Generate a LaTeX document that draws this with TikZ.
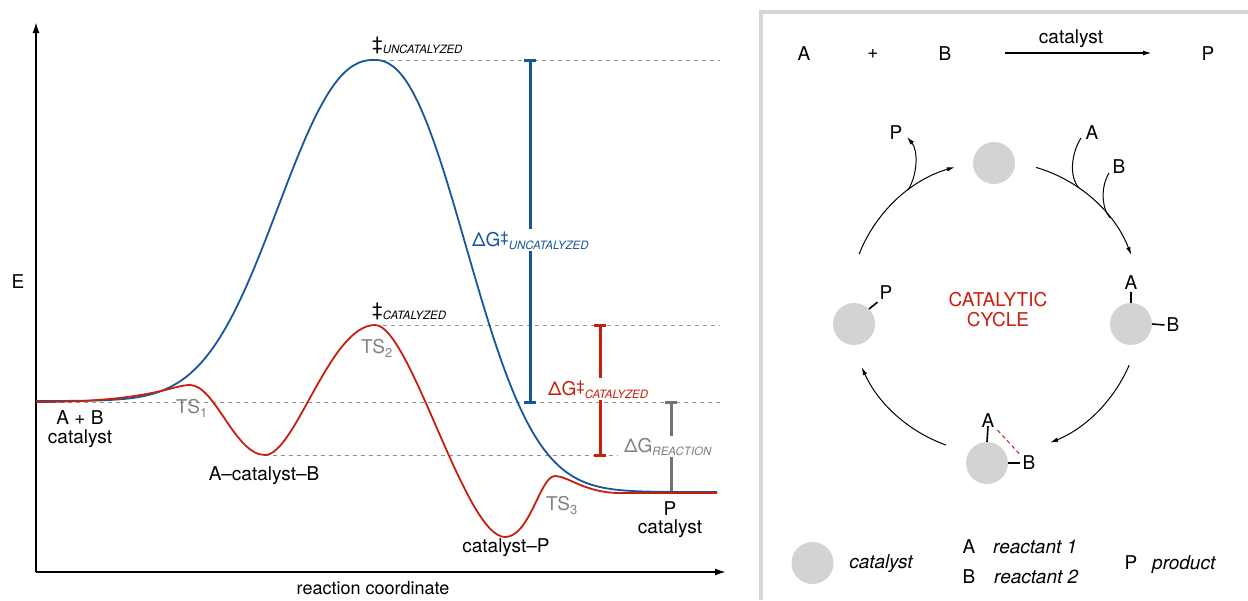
\documentclass[tikz,border=0pt]{standalone}
\usepackage{fontspec}
\setmainfont{TeX Gyre Heros}
\usetikzlibrary{arrows.meta}
\definecolor{cblue}{RGB}{23,87,153}
\definecolor{cred}{RGB}{200,30,12}
\definecolor{cgtext}{RGB}{128,128,128}
\definecolor{cdash}{RGB}{145,145,145}
\definecolor{cbar}{RGB}{115,115,115}
\definecolor{ccirc}{RGB}{211,211,211}
\definecolor{cbox}{RGB}{214,214,214}
\newcommand{\lowsub}[1]{\raisebox{-3pt}{\fontsize{11.5}{13}\selectfont\itshape #1}}
\newcommand{\dg}{\raisebox{4pt}{\fontsize{15}{15}\selectfont ‡}}
\newcommand{\tsnum}[1]{\raisebox{-4pt}{\fontsize{13}{13}\selectfont #1}}
\begin{document}
\begin{tikzpicture}[x=1pt,y=-1pt,
  lab/.style={inner sep=0pt, font=\fontsize{19}{22}\selectfont},
  glab/.style={lab, text=cgtext},
  dlab/.style={inner sep=2pt, fill=white, font=\fontsize{19}{22}\selectfont},
  guide/.style={cdash, line width=1pt, dash pattern=on 4pt off 4pt},
  curveb/.style={cblue, line width=1.8pt, line join=round},
  curver/.style={cred, line width=1.8pt, line join=round},
  barline/.style={line width=3pt},
  axis/.style={line width=1.8pt, -{Latex[length=11pt,width=7pt]}},
  cyc/.style={line width=1pt, -{Latex[length=8pt,width=4.5pt]}},
  cycplain/.style={line width=1pt},
  cat/.style={circle, fill=ccirc, draw=none, minimum size=42pt, inner sep=0pt},
  bond/.style={line width=1.6pt}]
\useasboundingbox (0,0) rectangle (1248,600);

% ---------- energy diagram ----------
\coordinate (O) at (36,572);
\coordinate (ytop) at (36,22);
\coordinate (xend) at (726,572);
\draw[axis] (O) -- (ytop);
\draw[axis] (O) -- (xend);
\node[lab] (E) at (18,282) {E};
\node[lab, anchor=base, font=\fontsize{18}{22}\selectfont] (xlab) at (373,594) {reaction coordinate};

% guide lines
\coordinate (pkU) at (374,60);
\coordinate (pkC) at (375,325);
\coordinate (st) at (36,402);
\coordinate (mid) at (265,455);
\draw[guide] (pkU) -- (720,60);
\draw[guide] (pkC) -- (720,325);
\draw[guide] (st) -- (720,402);
\draw[guide] (mid) -- (618,455);

% bars
\draw[barline, cblue] (530,60) -- (530,402);
\draw[barline, cblue] (524,60) -- (536,60);
\draw[barline, cblue] (524,402) -- (536,402);
\draw[barline, cred] (600,325) -- (600,455);
\draw[barline, cred] (594,325) -- (606,325);
\draw[barline, cred] (594,455) -- (606,455);
\draw[barline, cbar] (671,402) -- (671,492);
\draw[barline, cbar] (665,402) -- (677,402);
\draw[barline, cbar] (665,492) -- (677,492);

% bar labels
\node[dlab, text=cblue, anchor=base west] (dGU) at (470,246) {ΔG\dg\lowsub{UNCATALYZED}};
\node[dlab, text=cred, anchor=base west] (dGC) at (546,395) {ΔG\dg\lowsub{CATALYZED}};
\node[dlab, text=cgtext, anchor=base west] (dGR) at (622,452) {ΔG\lowsub{REACTION}};

% curves
\draw[curveb] plot[domain=36:373.5, samples=160] (\x, {401-341*exp(-((374.01-\x)/123)^2.3)})
  -- plot[domain=374.5:717, samples=160] (\x, {492-432*exp(-((\x-373.99)/118)^2.3)});
\draw[curver] (36,402) .. controls (150,402) and (172,385) .. (190,385)
  .. controls (215,385) and (235,455) .. (265,455)
  .. controls (295,455) and (330,325) .. (375,325)
  .. controls (410,325) and (465,537) .. (505,537)
  .. controls (530,537) and (540,476) .. (555,476)
  .. controls (568,476) and (585,493) .. (620,493) -- (717,493);

% labels of states
\node[lab, anchor=base west] (uc) at (372,50) {‡\lowsub{UNCATALYZED}};
\node[lab, anchor=base west] (ca) at (372,316) {‡\lowsub{CATALYZED}};
\node[glab, anchor=base west] (ts1) at (176,413) {TS\tsnum{1}};
\node[glab, anchor=base west] (ts2) at (361,353) {TS\tsnum{2}};
\node[glab, anchor=base west] (ts3) at (546,510) {TS\tsnum{3}};
\node[lab, anchor=base] (ab1) at (80,424) {A + B};
\node[lab, anchor=base] (ab2) at (80,443) {catalyst};
\node[lab, anchor=base] (acb) at (264,480) {A–catalyst–B};
\node[lab, anchor=base] (cp) at (506,552) {catalyst–P};
\node[lab, anchor=base] (p1) at (670,515) {P};
\node[lab, anchor=base] (p2) at (670,533) {catalyst};

% ---------- right panel ----------
\draw[cbox, line width=4pt] (761,600) -- (761,12) -- (1248,12);

% reaction equation
\node[lab] (eA) at (804,54) {A};
\node[lab] (eplus) at (873,54) {+};
\node[lab] (eB) at (945,54) {B};
\node[lab] (eP) at (1208,54) {P};
\coordinate (ar1) at (1005,53);
\coordinate (ar2) at (1152,53);
\draw[line width=1.6pt, -{Latex[length=9pt,width=5pt]}] (ar1) -- (ar2);
\node[lab, anchor=base] (ecat) at (1071,43) {catalyst};

% cycle
\coordinate (cc) at (995,307.5);
\node[cat] (c1) at (994,163) {};
\node[cat] (c2) at (1131,324) {};
\node[cat] (c3) at (987,463) {};
\node[cat] (c4) at (854,324) {};

\draw[cyc] ([shift={(-73.6:146)}]cc) arc[start angle=-73.6, end angle=-21.1, radius=146];
\draw[cyc] ([shift={(23.2:146)}]cc) arc[start angle=23.2, end angle=67.8, radius=146];
\draw[cyc] ([shift={(109.6:146)}]cc) arc[start angle=109.6, end angle=155.9, radius=146];
\draw[cyc] ([shift={(-158.5:146)}]cc) arc[start angle=-158.5, end angle=-106, radius=146];

% branches
\coordinate (pj) at (908,190);
\coordinate (pt) at (907,137);
\draw[cyc] (pj) .. controls (918,174) and (918,150) .. (pt);
\node[lab] (bP) at (896,133) {P};
\coordinate (aj) at (1079,188);
\coordinate (as) at (1081,138);
\draw[cycplain] (as) .. controls (1071,154) and (1069,177) .. (aj);
\node[lab] (bA) at (1092,133) {A};
\coordinate (bj) at (1110,218);
\coordinate (bs) at (1109,173);
\draw[cycplain] (bs) .. controls (1101,186) and (1101,207) .. (bj);
\node[lab] (bB) at (1119,167) {B};

% substituents
\node[lab] (c2A) at (1131,283) {A};
\draw[bond] (c2A.south) ++(0,2) -- (c2.north);
\node[lab] (c2B) at (1173,325) {B};
\draw[bond] (c2.east) -- ([xshift=-2pt]c2B.west);
\node[lab] (c3A) at (988,421) {A};
\draw[bond] ([yshift=2pt]c3A.south) -- (c3.north);
\node[lab] (c3B) at (1029,463) {B};
\draw[bond] (c3.east) -- ([xshift=-2pt]c3B.west);
\draw[cred, line width=1pt, dash pattern=on 4pt off 3pt] ([shift={(3,2)}]c3A.south east) -- ([shift={(-3,-2)}]c3B.north west);
\node[lab] (c4P) at (886,293) {P};
\draw[bond] (c4.45) -- ([shift={(-2,2)}]c4P.south west);

\node[lab, text=cred] (cyc1) at (998,300) {CATALYTIC};
\node[lab, text=cred] (cyc2) at (998,320) {CYCLE};

% legend
\node[cat] (lc) at (812.5,563) {};
\node[lab, anchor=base, font=\fontsize{19}{22}\selectfont\itshape] (lcat) at (881,568) {catalyst};
\node[lab, anchor=base] (lA) at (969,553) {A};
\node[lab, anchor=base west, font=\fontsize{19}{22}\selectfont\itshape] (lr1) at (993,553) {reactant 1};
\node[lab, anchor=base] (lB) at (969,583) {B};
\node[lab, anchor=base west, font=\fontsize{19}{22}\selectfont\itshape] (lr2) at (994,583) {reactant 2};
\node[lab, anchor=base] (lP) at (1131,569) {P};
\node[lab, anchor=base west, font=\fontsize{19}{22}\selectfont\itshape] (lprod) at (1152,569) {product};
\end{tikzpicture}
\end{document}
